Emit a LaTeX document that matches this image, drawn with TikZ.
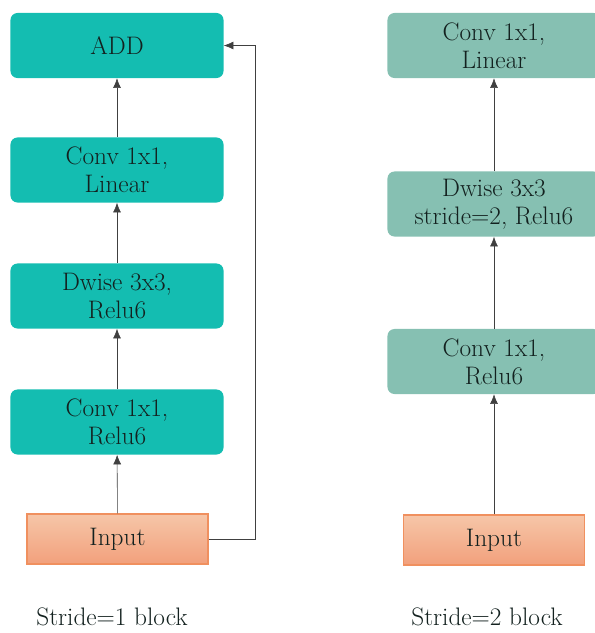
\documentclass[tikz,border=0pt]{standalone}
\usepackage{tikz}
\usetikzlibrary{positioning,arrows.meta}

\definecolor{tealfill}{HTML}{14BDB1}
\definecolor{sagefill}{HTML}{86C0B2}
\definecolor{peachtop}{HTML}{F6C6A8}
\definecolor{peachbot}{HTML}{F2A07C}
\definecolor{peachline}{HTML}{F0905F}
\definecolor{inktext}{HTML}{13211F}

\begin{document}
\begin{tikzpicture}[
x=0.025cm, y=-0.025cm,
font=\fontsize{18}{20}\selectfont, text=inktext,
stage/.style={rounded corners=5pt, minimum width=5.325cm, minimum height=1.625cm, align=center, inner sep=0pt},
fast/.style={stage, fill=tealfill},
slow/.style={stage, fill=sagefill},
inbox/.style={draw=peachline, thick, top color=peachtop, bottom color=peachbot, minimum width=4.525cm, minimum height=1.25cm, inner sep=0pt},
arrow/.style={-{Latex[length=2.4mm,width=2mm]}, black!75, thin}
]
\useasboundingbox (0,0) rectangle (594,633);
% stride 1
\node[fast] (add) at (117,45.5) {ADD};
\node[fast] (lin1) at (117,170) {Conv 1x1,\\Linear};
\node[fast] (dw1) at (117,296) {Dwise 3x3,\\Relu6};
\node[fast] (exp1) at (117,422) {Conv 1x1,\\Relu6};
\node[inbox] (in1) at (117.5,539) {Input};
\coordinate (skip) at (255,0);
\draw[arrow] (in1) -- (exp1);
\draw[arrow] (exp1) -- (dw1);
\draw[arrow] (dw1) -- (lin1);
\draw[arrow] (lin1) -- (add);
\draw[arrow] (in1.east) -| (skip |- add) -- (add.east);
\node (cap1) at (112,617) {Stride=1 block};
% stride 2
\node[slow] (lin2) at (494,45.5) {Conv 1x1,\\Linear};
\node[slow] (dw2) at (494,204) {Dwise 3x3\\stride=2, Relu6};
\node[slow] (exp2) at (494,361.5) {Conv 1x1,\\Relu6};
\node[inbox] (in2) at (494,540) {Input};
\draw[arrow] (in2) -- (exp2);
\draw[arrow] (exp2) -- (dw2);
\draw[arrow] (dw2) -- (lin2);
\node (cap2) at (487,617) {Stride=2 block};
\end{tikzpicture}
\end{document}
